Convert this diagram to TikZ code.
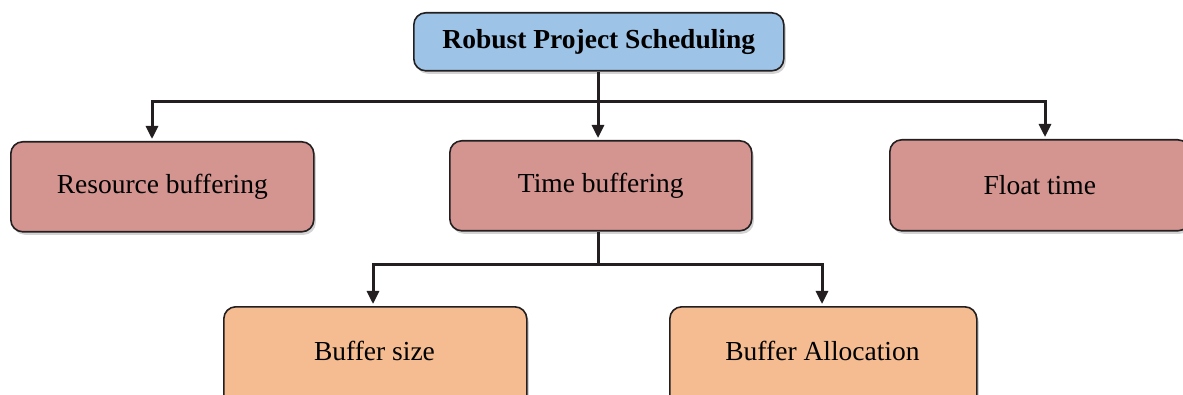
\documentclass[tikz,border=0pt]{standalone}
\usepackage{fontspec}
\setmainfont{Liberation Serif}
\usetikzlibrary{arrows.meta,shadows}
\definecolor{lineC}{HTML}{231F20}
\definecolor{blueC}{HTML}{9DC3E6}
\definecolor{redC}{HTML}{D49490}
\definecolor{orangeC}{HTML}{F4BC90}
\tikzset{
  box/.style={draw=lineC, line width=1.6pt, rounded corners=12pt, anchor=north west,
    inner sep=0pt, font=\fontsize{27.5}{30}\selectfont, text=black,
    drop shadow={shadow xshift=2pt, shadow yshift=-3pt, opacity=0.35, fill=gray}},
  arr/.style={draw=lineC, line width=3pt, -{Triangle[length=13pt,width=12pt]}},
  ln/.style={draw=lineC, line width=3pt}
}
\begin{document}
\begin{tikzpicture}[x=1pt,y=-1pt]
\useasboundingbox (0,0) rectangle (1183,395);
\clip (0,0) rectangle (1183,395);
\node[box, fill=blueC, minimum width=370pt, minimum height=58pt, font=\fontsize{27.5}{30}\selectfont\bfseries] (top) at (413,12) {Robust Project Scheduling};
\node[box, fill=redC, minimum width=303pt, minimum height=90pt] (res) at (10,141) {Resource buffering};
\node[box, fill=redC, minimum width=302pt, minimum height=90pt] (time) at (449,140) {Time buffering};
\node[box, fill=redC, minimum width=300pt, minimum height=91pt] (flt) at (889,139) {Float time};
\node[box, fill=orangeC, minimum width=303pt, minimum height=110pt, text depth=0pt] (bs) at (223,306) {\raisebox{-0pt}{}};
\node[box, fill=orangeC, minimum width=307pt, minimum height=110pt] (ba) at (669,306) {};
\node[font=\fontsize{27.5}{30}\selectfont] (bst) at (374.5,351) {Buffer size};
\node[font=\fontsize{27.5}{30}\selectfont] (bat) at (822.5,351) {Buffer Allocation};
\coordinate (j1) at (598,102);
\coordinate (j2) at (598,265);
\coordinate (aRes) at (152,139);
\coordinate (aTime) at (598,138);
\coordinate (aFlt) at (1045,137);
\coordinate (aBs) at (373,304);
\coordinate (aBa) at (822,304);
\draw[ln] (top.south -| j1) -- (j1);
\draw[arr] (j1) -| (aRes);
\draw[arr] (j1) -- (aTime);
\draw[arr] (j1) -| (aFlt);
\draw[ln] (time.south -| j2) -- (j2);
\draw[arr] (j2) -| (aBs);
\draw[arr] (j2) -| (aBa);
\end{tikzpicture}
\end{document}
